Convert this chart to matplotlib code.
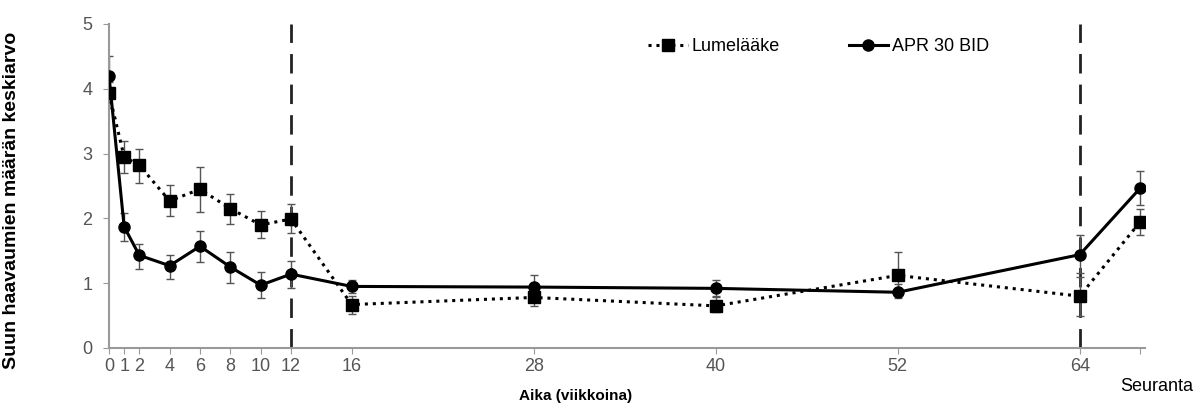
import matplotlib.pyplot as plt

plt.rcParams['font.family'] = ['Liberation Sans', 'DejaVu Sans']

# aika (viikkoina), viimeinen piste = seuranta
weeks = [0, 1, 2, 4, 6, 8, 10, 12, 16, 28, 40, 52, 64, 68]
tick_pos = [0, 1, 2, 4, 6, 8, 10, 12, 16, 28, 40, 52, 64, 68]
tick_labels = ['0', '1', '2', '4', '6', '8', '10', '12', '16', '28', '40', '52', '64', '']

# Lumelääke
placebo = [3.93, 2.95, 2.82, 2.27, 2.45, 2.15, 1.90, 1.99, 0.67, 0.78, 0.65, 1.12, 0.80, 1.95]
placebo_lo = [3.70, 2.70, 2.55, 2.03, 2.10, 1.92, 1.70, 1.78, 0.52, 0.65, 0.55, 0.80, 0.50, 1.75]
placebo_hi = [4.10, 3.20, 3.07, 2.52, 2.80, 2.37, 2.12, 2.22, 0.80, 0.90, 0.78, 1.48, 1.10, 2.15]

# APR 30 BID
apr = [4.20, 1.87, 1.43, 1.27, 1.57, 1.25, 0.97, 1.14, 0.95, 0.94, 0.92, 0.86, 1.44, 2.47]
apr_lo = [3.90, 1.65, 1.22, 1.07, 1.32, 1.00, 0.77, 0.93, 0.85, 0.80, 0.80, 0.77, 1.15, 2.20]
apr_hi = [4.50, 2.08, 1.60, 1.44, 1.80, 1.48, 1.17, 1.35, 1.05, 1.13, 1.05, 0.98, 1.75, 2.73]

vlines = [12, 64]

fig = plt.figure(figsize=(11.99, 4.03), dpi=100)
ax = fig.add_axes([0.0909, 0.1365, 0.864, 0.804])

p_err = [[v - l for v, l in zip(placebo, placebo_lo)], [h - v for v, h in zip(placebo, placebo_hi)]]
a_err = [[v - l for v, l in zip(apr, apr_lo)], [h - v for v, h in zip(apr, apr_hi)]]

ax.errorbar(weeks, placebo, yerr=p_err, fmt='none', ecolor='#555555', elinewidth=1, capsize=3, zorder=2)
ax.errorbar(weeks, apr, yerr=a_err, fmt='none', ecolor='#555555', elinewidth=1, capsize=3, zorder=2)

ax.plot(weeks, placebo, color='black', linestyle=(0, (1, 1.6)), linewidth=2.2,
        marker='s', markersize=8, label='Lumelääke', zorder=3)
ax.plot(weeks, apr, color='black', linestyle='-', linewidth=2.2,
        marker='o', markersize=8, label='APR 30 BID', zorder=4)

for v in vlines:
    ax.axvline(v, ymin=0, ymax=1.0, color='#222222', linestyle=(0, (7, 4)), linewidth=2, zorder=1)

ax.set_xlim(0, 68.3)
ax.set_ylim(0, 5)
ax.set_xticks(tick_pos)
ax.set_xticklabels(tick_labels)
ax.set_yticks([0, 1, 2, 3, 4, 5])

for s in ['top', 'right']:
    ax.spines[s].set_visible(False)
for s in ['left', 'bottom']:
    ax.spines[s].set_color('#999999')
    ax.spines[s].set_linewidth(1.5)
ax.tick_params(colors='#999999', labelcolor='#555555', labelsize=13, length=4)
ax.tick_params(axis='y', pad=8)

ax.set_ylabel('Suun haavaumien määrän keskiarvo', fontsize=14, fontweight='bold')
ax.yaxis.set_label_coords(-0.086, 0.455)
fig.text(0.48, 0.018, 'Aika (viikkoina)', fontsize=11, fontweight='bold', ha='center', va='center')
fig.text(0.965, 0.04, 'Seuranta', fontsize=13, ha='center', va='center')

ax.legend(loc='center left', bbox_to_anchor=(0.505, 0.93), ncol=2, frameon=False,
          fontsize=13, handlelength=2.2, columnspacing=3.8, handletextpad=0.2)

plt.savefig('out.png', dpi=100)
